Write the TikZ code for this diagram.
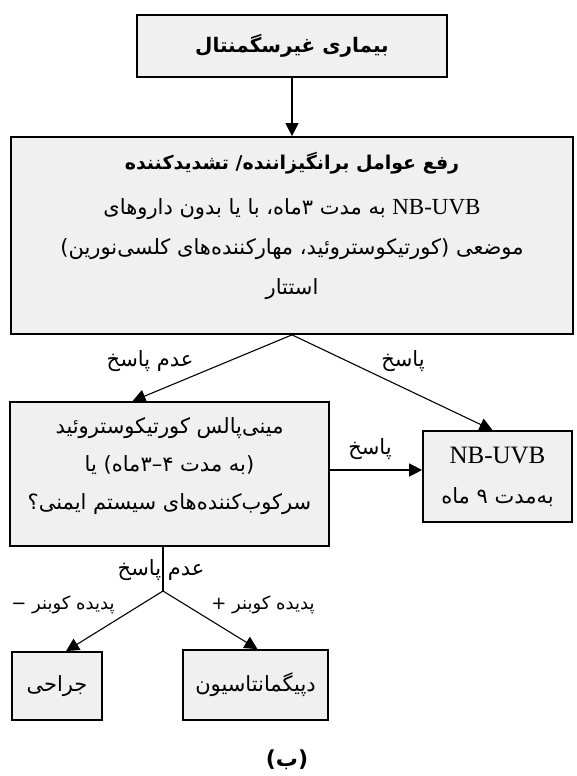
\documentclass[tikz,border=0pt]{standalone}
\usepackage{fontspec}
\setmainfont{Liberation Serif}
\newfontfamily\fafont[Script=Arabic]{DejaVu Sans}
\TeXXeTstate=1
\newcommand{\fa}[1]{{\fafont\beginR #1\endR}}
\usetikzlibrary{arrows.meta, positioning, calc}

\begin{document}
\begin{tikzpicture}[x=1pt, y=-1pt]
    % Node Styles
    \tikzstyle{box} = [rectangle, draw, line width=1.7pt, fill=black!6, inner sep=0pt]
    \tikzstyle{txt} = [align=center, inner sep=0pt, font=\fontsize{21}{40}\selectfont]
    \tikzstyle{lbl} = [inner sep=1pt, font=\fontsize{21}{24}\selectfont]
    \tikzstyle{small} = [inner sep=1pt, font=\fontsize{18}{20}\selectfont]
    \tikzstyle{line} = [draw, line width=1.1pt, -{Triangle[length=13pt, width=13pt]}]

    \useasboundingbox (0,0) rectangle (576,776);

    % --- TOP: DIAGNOSIS ---
    \node [box, minimum width=310pt, minimum height=62pt, font=\fontsize{20}{24}\selectfont\bfseries] (vit) at (292,46) {\fa{بیماری غیرسگمنتال}};

    % --- FIRST LINE OF TREATMENT ---
    \node [box, minimum width=562pt, minimum height=197pt] (remove) at (292,235.5) {};
    \node [txt] (removetext) at (292,226) {{\fontsize{19}{40}\selectfont\bfseries\fa{رفع عوامل برانگیزاننده/ تشدیدکننده}}\\[5pt]
        \fa{\beginL{\rmfamily\fontsize{23}{40}\selectfont NB-UVB}\endL{} به مدت ۳ماه، با یا بدون داروهای}\\
        \fa{موضعی (کورتیکوستروئید، مهارکننده‌های کلسی‌نورین)}\\
        \fa{استتار}};

    % --- SECOND LINE ---
    \node [box, minimum width=319pt, minimum height=144pt] (mini) at (169.5,474) {};
    \node [txt, font=\fontsize{21}{38}\selectfont] (minitext) at (169.5,466.5) {\fa{مینی‌پالس کورتیکوستروئید}\\
        \fa{(به مدت ۴–۳ماه) یا}\\
        \fa{سرکوب‌کننده‌های سیستم ایمنی؟}};

    \node [box, minimum width=149pt, minimum height=91pt, align=center, font=\fontsize{21}{40}\selectfont] (nb) at (497.5,476.5) {{\fontsize{25}{40}\selectfont NB-UVB}\\ \fa{به‌مدت ۹ ماه}};

    % --- BOTTOM ROW ---
    \coordinate (split) at (163,591);
    \node [box, minimum width=90pt, minimum height=68pt, font=\fontsize{21}{24}\selectfont] (surg) at (57,686) {\fa{جراحی}};
    \node [box, minimum width=145pt, minimum height=70pt, font=\fontsize{21}{24}\selectfont] (depig) at (255.5,685) {\fa{دپیگمانتاسیون}};

    % --- PATHS ---
    \path [line] (vit) -- (remove);
    \path [line] (remove.south) -- ([xshift=-37pt]mini.north);
    \path [line] (remove.south) -- ([xshift=-5pt]nb.north);
    \path [line] ([yshift=4pt]mini.east) -- ([yshift=4pt]mini.east -| nb.west);
    \draw [line width=1.1pt] (split |- mini.south) -- (split);
    \path [line] (split) -- ([xshift=9pt]surg.north);
    \path [line] (split) -- ([xshift=2pt]depig.north);

    % --- LABELS ---
    \node [lbl] (nores) at (150,361) {\fa{عدم پاسخ}};
    \node [lbl] (res) at (403,361) {\fa{پاسخ}};
    \node [lbl] (resmini) at (370,449) {\fa{پاسخ}};
    \node [lbl] (noresmini) at (161,570) {\fa{عدم پاسخ}};
    \node [small] (kneg) at (63,605) {\fa{پدیده کوبنر −}};
    \node [small] (kpos) at (263,605) {\fa{پدیده کوبنر +}};

    \node [font=\fontsize{22}{24}\selectfont\bfseries] (caption) at (287,760) {\fa{(ب)}};
\end{tikzpicture}
\end{document}
